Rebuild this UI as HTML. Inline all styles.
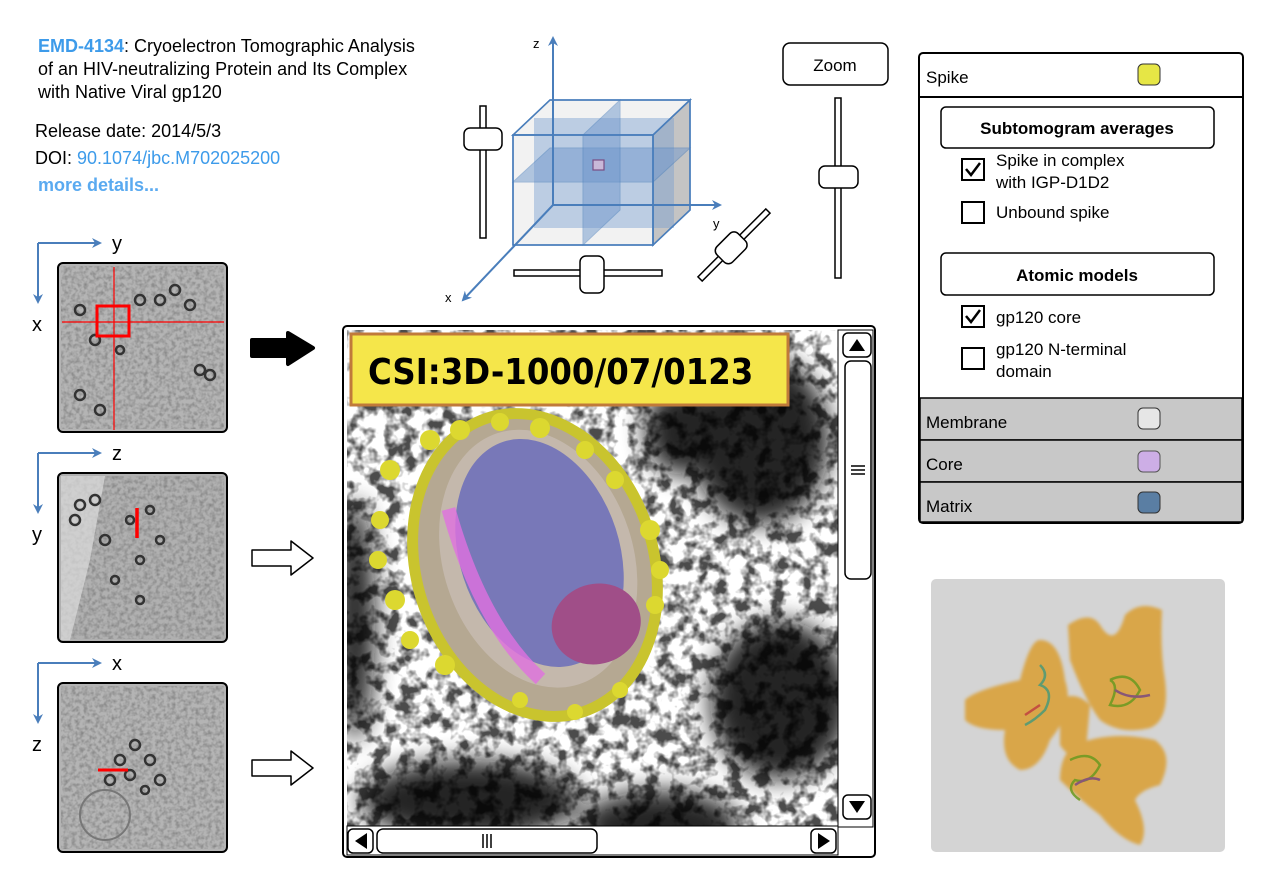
<!DOCTYPE html>
<html><head><meta charset="utf-8"><style>
html,body{margin:0;padding:0;background:#fff;}
svg{display:block;font-family:"Liberation Sans",Arial,sans-serif;}
</style></head><body>
<svg width="1280" height="896" viewBox="0 0 1280 896" xmlns="http://www.w3.org/2000/svg">
<defs>
<filter id="noiseHi" x="0" y="0" width="100%" height="100%">
<feTurbulence type="fractalNoise" baseFrequency="0.07" numOctaves="3" seed="4"/>
<feColorMatrix type="matrix" values="0 0 0 0 0  0 0 0 0 0  0 0 0 0 0  0 0 0 -4 2.3"/>
</filter>
<filter id="noiseLo" x="0" y="0" width="100%" height="100%">
<feTurbulence type="fractalNoise" baseFrequency="0.25" numOctaves="2" seed="7"/>
<feColorMatrix type="matrix" values="0 0 0 0 0.2  0 0 0 0 0.2  0 0 0 0 0.2  0 0 0 -1.6 1.0"/>
</filter>
<filter id="blur3"><feGaussianBlur stdDeviation="12"/></filter>
<filter id="blur1"><feGaussianBlur stdDeviation="1.5"/></filter>
<clipPath id="mainclip"><rect x="347" y="330" width="491" height="496"/></clipPath>
<marker id="ah" viewBox="0 0 10 10" refX="8" refY="5" markerWidth="5" markerHeight="5" orient="auto"><path d="M0,0 L10,5 L0,10 L3,5z" fill="#4a7ebb"/></marker>
</defs>

<!-- header text -->
<g font-size="18">
<text x="38" y="52"><tspan fill="#3d9bea" font-weight="bold">EMD-4134</tspan>: Cryoelectron Tomographic Analysis</text>
<text x="38" y="75">of an HIV-neutralizing Protein and Its Complex</text>
<text x="38" y="98">with Native Viral gp120</text>
<text x="35" y="137">Release date: 2014/5/3</text>
<text x="35" y="164">DOI: <tspan fill="#3d9bea">90.1074/jbc.M702025200</tspan></text>
<text x="38" y="191" fill="#5aaaf0" font-weight="bold">more details...</text>
</g>

<!-- left thumbnails -->
<g>
<path d="M38,243 H100" stroke="#4a7ebb" stroke-width="2" marker-end="url(#ah)"/>
<path d="M38,243 V302" stroke="#4a7ebb" stroke-width="2" marker-end="url(#ah)"/>
<text x="112" y="250" font-size="20">y</text><text x="32" y="331" font-size="20">x</text>
<rect x="58" y="263" width="169" height="169" rx="5" fill="#b4b4b4" stroke="#000" stroke-width="2"/>
<rect x="61" y="266" width="163" height="163" filter="url(#noiseLo)"/>
<g fill="none" stroke="#333" stroke-width="2.5"><circle cx="80" cy="310" r="5"/><circle cx="95" cy="340" r="5"/><circle cx="140" cy="300" r="5"/><circle cx="160" cy="300" r="5"/><circle cx="175" cy="290" r="5"/><circle cx="190" cy="305" r="5"/><circle cx="80" cy="395" r="5"/><circle cx="100" cy="410" r="5"/><circle cx="200" cy="370" r="5"/><circle cx="210" cy="375" r="5"/><circle cx="120" cy="350" r="4"/></g>
<path d="M114,267 V430 M62,322 H224" stroke="#f00" stroke-width="1.2"/>
<rect x="97" y="306" width="32" height="30" fill="none" stroke="#f00" stroke-width="3"/>

<path d="M38,453 H100" stroke="#4a7ebb" stroke-width="2" marker-end="url(#ah)"/>
<path d="M38,453 V512" stroke="#4a7ebb" stroke-width="2" marker-end="url(#ah)"/>
<text x="112" y="460" font-size="20">z</text><text x="32" y="541" font-size="20">y</text>
<rect x="58" y="473" width="169" height="169" rx="5" fill="#b0b0b0" stroke="#000" stroke-width="2"/>
<rect x="61" y="476" width="163" height="163" filter="url(#noiseLo)"/>
<path d="M61,476 H105 L90,560 L70,640 H61z" fill="#ddd" opacity="0.7"/>
<g fill="none" stroke="#333" stroke-width="2.5"><circle cx="80" cy="505" r="5"/><circle cx="95" cy="500" r="5"/><circle cx="75" cy="520" r="5"/><circle cx="105" cy="540" r="5"/><circle cx="130" cy="520" r="4"/><circle cx="150" cy="510" r="4"/><circle cx="140" cy="560" r="4"/><circle cx="115" cy="580" r="4"/><circle cx="140" cy="600" r="4"/><circle cx="160" cy="540" r="4"/></g>
<path d="M137,508 V538" stroke="#f00" stroke-width="3.5"/>

<path d="M38,663 H100" stroke="#4a7ebb" stroke-width="2" marker-end="url(#ah)"/>
<path d="M38,663 V722" stroke="#4a7ebb" stroke-width="2" marker-end="url(#ah)"/>
<text x="112" y="670" font-size="20">x</text><text x="32" y="751" font-size="20">z</text>
<rect x="58" y="683" width="169" height="169" rx="5" fill="#b4b4b4" stroke="#000" stroke-width="2"/>
<rect x="61" y="686" width="163" height="163" filter="url(#noiseLo)"/>
<g fill="none" stroke="#333" stroke-width="2.5"><circle cx="120" cy="760" r="5"/><circle cx="135" cy="745" r="5"/><circle cx="150" cy="760" r="5"/><circle cx="130" cy="775" r="5"/><circle cx="160" cy="780" r="5"/><circle cx="110" cy="780" r="5"/><circle cx="145" cy="790" r="4"/></g>
<circle cx="105" cy="815" r="25" fill="none" stroke="#777" stroke-width="2"/>
<path d="M98,770 H128" stroke="#f00" stroke-width="3"/>
</g>

<!-- arrows -->
<path d="M252,340 H288 V333 L313,348 L288,364 V356 H252z" fill="#000" stroke="#000" stroke-width="4" stroke-linejoin="round"/>
<path d="M252,550 H291 V541 L313,558 L291,575 V566 H252z" fill="#fff" stroke="#000" stroke-width="1.5" stroke-linejoin="round"/>
<path d="M252,760 H291 V751 L313,768 L291,785 V776 H252z" fill="#fff" stroke="#000" stroke-width="1.5" stroke-linejoin="round"/>

<!-- 3D cube -->
<g stroke="#4a7ebb" stroke-width="1.5">
<polygon points="513,135 550,100 690,100 653,135" fill="#f2f2f2"/>
<polygon points="653,135 690,100 690,210 653,245" fill="#c4c4c4"/>
<rect x="513" y="135" width="140" height="110" fill="#f2f2f2"/>
<polygon points="534,118 674,118 674,228 534,228" fill="#7aa0d0" opacity="0.45" stroke="none"/>
<polygon points="513,182 550,148 690,148 653,182" fill="#6f97cc" opacity="0.5" stroke-width="1"/>
<polygon points="583,135 620,100 620,210 583,245" fill="#6f97cc" opacity="0.5" stroke-width="1"/>
<polygon points="513,135 550,100 690,100 653,135" fill="none"/>
<rect x="513" y="135" width="140" height="110" fill="none"/>
<polygon points="653,135 690,100 690,210 653,245" fill="none"/>
</g>
<rect x="593" y="160" width="11" height="10" fill="#c9b8d8" stroke="#7a4d84" stroke-width="1.2"/>
<path d="M553,205 V38" stroke="#4a7ebb" stroke-width="2" marker-end="url(#ah)"/>
<path d="M553,205 H720" stroke="#4a7ebb" stroke-width="2" marker-end="url(#ah)"/>
<path d="M553,205 L463,300" stroke="#4a7ebb" stroke-width="2" marker-end="url(#ah)"/>
<text x="533" y="48" font-size="13">z</text>
<text x="713" y="228" font-size="13">y</text>
<text x="445" y="302" font-size="13">x</text>

<!-- sliders -->
<rect x="480" y="106" width="6" height="132" fill="#fff" stroke="#000" stroke-width="1.5"/>
<rect x="464" y="128" width="38" height="22" rx="6" fill="#fff" stroke="#000" stroke-width="1.5"/>
<rect x="514" y="270" width="148" height="6" fill="#fff" stroke="#000" stroke-width="1.5"/>
<rect x="580" y="256" width="24" height="37" rx="6" fill="#fff" stroke="#000" stroke-width="1.5"/>
<g transform="translate(734,245) rotate(-45)">
<rect x="-48" y="-3" width="96" height="6" fill="#fff" stroke="#000" stroke-width="1.5"/>
<rect x="-19" y="-11" width="30" height="22" rx="6" fill="#fff" stroke="#000" stroke-width="1.5"/>
</g>
<rect x="783" y="43" width="105" height="42" rx="7" fill="#fff" stroke="#000" stroke-width="1.5"/>
<text x="835" y="71" font-size="17" text-anchor="middle">Zoom</text>
<rect x="835" y="98" width="6" height="180" fill="#fff" stroke="#000" stroke-width="1.5"/>
<rect x="819" y="166" width="39" height="22" rx="6" fill="#fff" stroke="#000" stroke-width="1.5"/>

<!-- main view -->
<rect x="343" y="326" width="532" height="531" rx="4" fill="#fff" stroke="#000" stroke-width="2"/>
<g clip-path="url(#mainclip)">
<rect x="347" y="330" width="491" height="496" fill="#fff"/>
<g filter="url(#blur3)" fill="#111" opacity="0.9">
<ellipse cx="760" cy="440" rx="70" ry="85"/>
<ellipse cx="780" cy="700" rx="70" ry="80"/>
<ellipse cx="470" cy="800" rx="110" ry="40"/>
<ellipse cx="660" cy="825" rx="80" ry="35"/>
<ellipse cx="355" cy="620" rx="20" ry="120"/>
<ellipse cx="680" cy="430" rx="35" ry="45"/>
</g>
<rect x="347" y="330" width="491" height="496" filter="url(#noiseHi)" opacity="0.7"/>
<!-- virus -->
<g transform="translate(535,565) rotate(-18)">
<ellipse cx="0" cy="0" rx="124" ry="160" fill="#c9c42e"/>
<ellipse cx="0" cy="0" rx="113" ry="149" fill="#b5a892"/>
<ellipse cx="5" cy="-5" rx="95" ry="132" fill="#c4b8ac"/>
<ellipse cx="8" cy="-10" rx="80" ry="117" fill="#7878b8"/>
<ellipse cx="40" cy="75" rx="45" ry="40" fill="#a04e88"/>
<path d="M-65,-80 Q-70,40 -30,110" stroke="#e070e0" stroke-width="14" fill="none" opacity="0.8"/>
</g>
<g fill="#dcd830">
<circle cx="390" cy="470" r="10"/><circle cx="380" cy="520" r="9"/><circle cx="378" cy="560" r="9"/><circle cx="395" cy="600" r="10"/><circle cx="410" cy="640" r="9"/><circle cx="445" cy="665" r="10"/><circle cx="430" cy="440" r="10"/><circle cx="460" cy="430" r="10"/><circle cx="500" cy="422" r="9"/><circle cx="540" cy="428" r="10"/><circle cx="585" cy="450" r="9"/><circle cx="615" cy="480" r="9"/><circle cx="650" cy="530" r="10"/><circle cx="660" cy="570" r="9"/><circle cx="655" cy="605" r="9"/><circle cx="620" cy="690" r="8"/><circle cx="575" cy="712" r="8"/><circle cx="520" cy="700" r="8"/>
</g>
</g>
<!-- label -->
<rect x="351" y="334" width="437" height="71" fill="#f5e64a" stroke="#c07a3a" stroke-width="3"/>
<text x="368" y="384" font-size="36" font-weight="bold" font-family="'DejaVu Sans Condensed','DejaVu Sans',sans-serif">CSI:3D-1000/07/0123</text>
<!-- scrollbars -->
<rect x="838" y="330" width="35" height="497" fill="#fff" stroke="#000" stroke-width="1"/>
<rect x="843" y="333" width="28" height="24" rx="5" fill="#fff" stroke="#000" stroke-width="1.5"/>
<path d="M849,351 L857,339 L865,351z" fill="#000"/>
<rect x="845" y="361" width="26" height="218" rx="6" fill="#fff" stroke="#000" stroke-width="1.5"/>
<path d="M851,466 H865 M851,470 H865 M851,474 H865" stroke="#000" stroke-width="1.5"/>
<rect x="843" y="795" width="28" height="24" rx="5" fill="#fff" stroke="#000" stroke-width="1.5"/>
<path d="M849,801 L857,813 L865,801z" fill="#000"/>
<rect x="347" y="826" width="491" height="29" fill="#fff" stroke="#000" stroke-width="1"/>
<rect x="348" y="829" width="25" height="24" rx="5" fill="#fff" stroke="#000" stroke-width="1.5"/>
<path d="M367,833 L355,841 L367,849z" fill="#000"/>
<rect x="377" y="829" width="220" height="24" rx="6" fill="#fff" stroke="#000" stroke-width="1.5"/>
<path d="M483,834 V848 M487,834 V848 M491,834 V848" stroke="#000" stroke-width="1.5"/>
<rect x="811" y="829" width="25" height="24" rx="5" fill="#fff" stroke="#000" stroke-width="1.5"/>
<path d="M818,833 L830,841 L818,849z" fill="#000"/>

<!-- right panel -->
<rect x="919" y="53" width="324" height="470" rx="4" fill="#fff" stroke="#000" stroke-width="2"/>
<path d="M919,97 H1243" stroke="#000" stroke-width="2"/>
<text x="926" y="83" font-size="17">Spike</text>
<rect x="1138" y="64" width="22" height="21" rx="5" fill="#e6e645" stroke="#333"/>
<rect x="941" y="107" width="273" height="41" rx="5" fill="#fff" stroke="#000" stroke-width="1.5"/>
<text x="1077" y="134" font-size="17" font-weight="bold" text-anchor="middle">Subtomogram averages</text>
<rect x="962" y="159" width="22" height="21" fill="#fff" stroke="#000" stroke-width="2"/>
<path d="M966,169 L971,175 L980,163" stroke="#000" stroke-width="2.5" fill="none"/>
<text x="996" y="166" font-size="17">Spike in complex</text>
<text x="996" y="188" font-size="17">with IGP-D1D2</text>
<rect x="962" y="202" width="22" height="21" fill="#fff" stroke="#000" stroke-width="2"/>
<text x="996" y="218" font-size="17">Unbound spike</text>
<rect x="941" y="253" width="273" height="42" rx="5" fill="#fff" stroke="#000" stroke-width="1.5"/>
<text x="1077" y="281" font-size="17" font-weight="bold" text-anchor="middle">Atomic models</text>
<rect x="962" y="306" width="22" height="21" fill="#fff" stroke="#000" stroke-width="2"/>
<path d="M966,316 L971,322 L980,310" stroke="#000" stroke-width="2.5" fill="none"/>
<text x="996" y="323" font-size="17">gp120 core</text>
<rect x="962" y="348" width="22" height="21" fill="#fff" stroke="#000" stroke-width="2"/>
<text x="996" y="355" font-size="17">gp120 N-terminal</text>
<text x="996" y="377" font-size="17">domain</text>
<path d="M920,398 H1242 V440 H920z" fill="#c8c8c8" stroke="#000" stroke-width="1.5"/>
<path d="M920,440 H1242 V482 H920z" fill="#c8c8c8" stroke="#000" stroke-width="1.5"/>
<path d="M920,482 H1242 V522 H920z" fill="#c8c8c8" stroke="#000" stroke-width="1.5"/>
<text x="926" y="428" font-size="17">Membrane</text>
<text x="926" y="470" font-size="17">Core</text>
<text x="926" y="512" font-size="17">Matrix</text>
<rect x="1138" y="408" width="22" height="21" rx="5" fill="#e6e6e6" stroke="#333"/>
<rect x="1138" y="451" width="22" height="21" rx="5" fill="#cdaee6" stroke="#555"/>
<rect x="1138" y="492" width="22" height="21" rx="5" fill="#5a7ea3" stroke="#333"/>

<!-- structure image -->
<rect x="931" y="579" width="294" height="273" rx="5" fill="#d4d4d4"/>
<g fill="#d9a64a" filter="url(#blur1)">
<path d="M965,700 Q975,690 1020,680 Q1030,640 1040,640 Q1060,640 1065,680 Q1075,710 1050,740 Q1040,770 1020,770 Q1000,760 1005,730 Q975,730 965,720z"/>
<path d="M1068,625 Q1090,610 1100,625 Q1115,650 1125,615 Q1140,600 1162,610 Q1160,650 1165,680 Q1170,720 1150,728 Q1120,735 1100,720 Q1085,700 1070,660z"/>
<path d="M1075,745 Q1110,730 1155,740 Q1175,755 1160,785 Q1140,790 1135,800 Q1150,830 1140,845 Q1120,840 1100,815 Q1080,800 1060,780 Q1060,755 1075,745z"/>
<path d="M1060,700 Q1075,690 1090,705 L1085,760 Q1070,760 1060,745z"/>
</g>
<g fill="none" stroke-width="2.5" opacity="0.85">
<path d="M1040,665 q10,10 0,20 q15,5 5,25 q-10,10 -20,15" stroke="#4a9a78"/>
<path d="M1040,705 l-15,10" stroke="#c04040"/>
<path d="M1110,680 q20,-10 30,10 q-10,20 -30,15 q10,-20 0,-25" stroke="#6a9a20"/>
<path d="M1115,690 q15,10 35,5" stroke="#7a4a80"/>
<path d="M1070,760 q20,-10 30,5 q-10,20 -25,15 q-10,10 5,20" stroke="#6a9a20"/>
<path d="M1075,785 q15,-10 25,-5" stroke="#7a4a80"/>
</g>
</svg>
</body></html>
